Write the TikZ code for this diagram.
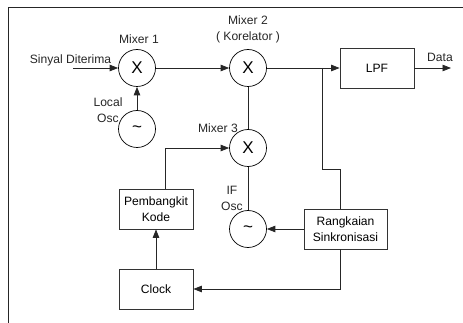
\documentclass[tikz,border=0pt]{standalone}
\usepackage{fontspec}
\setmainfont{Liberation Sans}
\usetikzlibrary{arrows.meta}
\tikzset{
    mixer/.style={draw, circle, inner sep=0pt, minimum size=37pt, line width=0.7pt, font=\fontsize{17}{20}\selectfont},
    blok/.style={draw=black!80, rectangle, inner sep=0pt, minimum height=40pt, line width=0.8pt, align=center},
    label/.style={inner sep=0pt, align=center, text=black!85},
    wire/.style={line width=0.8pt, draw=black!85},
    arah/.style={wire, -{Triangle[length=8.5pt,width=6.5pt]}}
}
\begin{document}
\begin{tikzpicture}[x=1pt, y=-1pt, every node/.style={font=\fontsize{12.1}{16}\selectfont}]
    \useasboundingbox (0,0) rectangle (463,323);

    % Bingkai
    \draw[line width=1pt, color=black!85] (8,323) -- (8,8) -- (463,8);

    % Mixer dan osilator
    \node[mixer] (mixer1) at (137,68) {X};
    \node[mixer] (mixer2) at (248,68) {X};
    \node[mixer] (mixer3) at (248,148) {X};
    \node[mixer] (localosc) at (137,129) {\textasciitilde};
    \node[mixer] (ifosc) at (248,229) {\textasciitilde};

    % Blok
    \node[blok, minimum width=74pt] (lpf) at (377,68) {LPF};
    \node[blok, minimum width=74pt] (kode) at (156,209) {Pembangkit\\Kode};
    \node[blok, minimum width=74pt] (clock) at (156,289) {Clock};
    \node[blok, minimum width=83pt] (sinkron) at (345.5,229) {Rangkaian\\Sinkronisasi};

    % Label
    \node[label] (lblsinyal) at (70.5,60) {Sinyal Diterima};
    \node[label] (lblmixer1) at (139,39) {Mixer 1};
    \node[label] (lblmixer2) at (248,29) {Mixer 2\\( Korelator )};
    \node[label] (lblmixer3) at (218,128) {Mixer 3};
    \node[label] (lbllocal) at (108,110) {Local\\Osc};
    \node[label] (lblif) at (232,198) {IF\\Osc};
    \node[label] (lbldata) at (440,57) {Data};

    % Titik bantu
    \coordinate (masuk) at (73,68);
    \coordinate (keluar) at (451,68);
    \coordinate (cabang) at (322,68);
    \coordinate (belok) at (322,169);
    \coordinate (belok2) at (340,169);
    \coordinate (belok3) at (340,289);
    \coordinate (belok4) at (165,148);

    % Jalur sinyal
    \draw[arah] (masuk) -- (mixer1);
    \draw[arah] (mixer1) -- (mixer2);
    \draw[arah] (mixer2) -- (lpf);
    \draw[arah] (lpf) -- (keluar);
    \draw[arah] (localosc) -- (mixer1);
    \draw[wire] (mixer2) -- (mixer3);
    \draw[wire] (mixer3) -- (ifosc);
    \draw[arah] (sinkron) -- (ifosc);
    \draw[arah] (clock) -- (kode);

    % Jalur umpan balik
    \draw[wire] (cabang) -- (belok) -- (belok2) -- (belok2 |- sinkron.north);
    \draw[arah] (belok3 |- sinkron.south) -- (belok3) -- (clock.east);
    \draw[arah] (belok4 |- kode.north) -- (belok4) -- (mixer3.west);
\end{tikzpicture}
\end{document}
